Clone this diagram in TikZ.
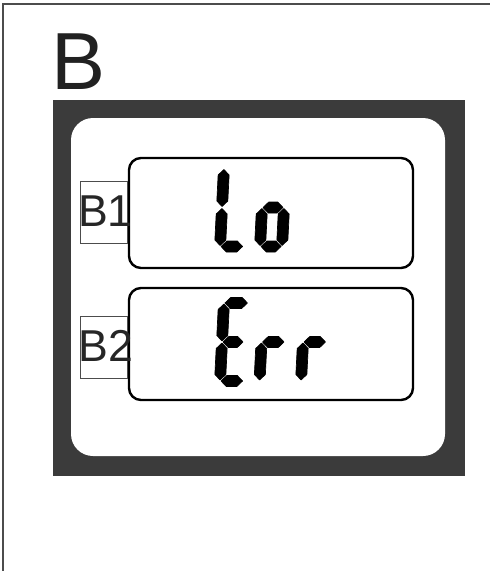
\documentclass[tikz,border=0pt]{standalone}
\usepackage{fontspec}
\setmainfont{Liberation Sans}
\begin{document}
\begin{tikzpicture}[x=0.75pt,y=0.75pt,yscale=-1,xscale=1,
	segment/.style={fill=black,draw=black,line width=0.5pt,line join=round},
	lcdpanel/.style={draw=black,line width=1.8pt,rounded corners=9pt},
	tagbox/.style={draw=black!70,line width=0.75pt,minimum width=35.25pt,minimum height=46.5pt,inner sep=0pt},
	tagtext/.style={inner sep=0pt,font=\fontsize{33.5pt}{34pt}\selectfont,text=black!85}]
	\useasboundingbox (0,0) rectangle (490,571);

	%Straight Lines [frame]
	\draw[black!70,line width=1.5pt] (3,571) -- (3,4) -- (490,4) ;

	% Text Node
	\node[anchor=south west,inner sep=0pt,font=\fontsize{60.75pt}{61pt}\selectfont,text=black!87] (title) at (51,90) {B};

	%Shape: Rectangle [bezel]
	\fill[black!77] (53,100) rectangle (465,476) ;
	%Shape: Rounded Rectangle [window]
	\fill[white,rounded corners=16.5pt] (71,118) rectangle (445,456) ;

	%Shape: Rounded Rectangle [upper display]
	\draw[lcdpanel] (129,158) rectangle (413,268) ;
	%Shape: Rounded Rectangle [lower display]
	\draw[lcdpanel] (129,288) rectangle (413,400) ;

	% Text Node
	\node[tagbox] (b1box) at (103.5,212.5) {};
	\node[tagtext] (b1) at ([xshift=1.5pt,yshift=-1pt]b1box.center) {B1};
	% Text Node
	\node[tagbox] (b2box) at (104,347) {};
	\node[tagtext] (b2) at ([xshift=1.5pt,yshift=-1pt]b2box.center) {B2};

	%Shape: Polygon [digit L]
	\begin{scope}[shift={(222,207.5)},xslant=-0.05]
		\filldraw[segment] (0,-38) -- (5.5,-32.5) -- (5.5,-6.5) -- (0,-1) -- (-5.5,-6.5) -- (-5.5,-32.5) -- cycle ;
		\filldraw[segment] (0,1) -- (5.5,6.5) -- (5.5,32.5) -- (0,38) -- (-5.5,32.5) -- (-5.5,6.5) -- cycle ;
		\filldraw[segment] (1,39) -- (6.5,33.5) -- (17,33.5) -- (22.5,39) -- (17,44.5) -- (6.5,44.5) -- cycle ;
	\end{scope}
	%Shape: Polygon [digit o]
	\begin{scope}[shift={(262,207.5)},xslant=-0.05]
		\filldraw[segment] (1,0) -- (6.5,-5.5) -- (15.5,-5.5) -- (21,0) -- (15.5,5.5) -- (6.5,5.5) -- cycle ;
		\filldraw[segment] (0,1) -- (5.5,6.5) -- (5.5,32.5) -- (0,38) -- (-5.5,32.5) -- (-5.5,6.5) -- cycle ;
		\filldraw[segment] (22,1) -- (27.5,6.5) -- (27.5,32.5) -- (22,38) -- (16.5,32.5) -- (16.5,6.5) -- cycle ;
		\filldraw[segment] (1,39) -- (6.5,33.5) -- (15.5,33.5) -- (21,39) -- (15.5,44.5) -- (6.5,44.5) -- cycle ;
	\end{scope}

	%Shape: Polygon [digit E]
	\begin{scope}[shift={(222,342)},xslant=-0.05]
		\filldraw[segment] (1,-39) -- (6.5,-44.5) -- (18,-44.5) -- (23.5,-39) -- (18,-33.5) -- (6.5,-33.5) -- cycle ;
		\filldraw[segment] (0,-38) -- (5.5,-32.5) -- (5.5,-6.5) -- (0,-1) -- (-5.5,-6.5) -- (-5.5,-32.5) -- cycle ;
		\filldraw[segment] (1,0) -- (6.5,-5.5) -- (15.5,-5.5) -- (21,0) -- (15.5,5.5) -- (6.5,5.5) -- cycle ;
		\filldraw[segment] (0,1) -- (5.5,6.5) -- (5.5,32.5) -- (0,38) -- (-5.5,32.5) -- (-5.5,6.5) -- cycle ;
		\filldraw[segment] (1,39) -- (6.5,33.5) -- (17,33.5) -- (22.5,39) -- (17,44.5) -- (6.5,44.5) -- cycle ;
	\end{scope}
	%Shape: Polygon [digit r]
	\begin{scope}[shift={(261.5,342)},xslant=-0.05]
		\filldraw[segment] (1,0) -- (6.5,-5.5) -- (17,-5.5) -- (22.5,0) -- (17,5.5) -- (6.5,5.5) -- cycle ;
		\filldraw[segment] (0,1) -- (5.5,6.5) -- (5.5,32.5) -- (0,38) -- (-5.5,32.5) -- (-5.5,6.5) -- cycle ;
	\end{scope}
	%Shape: Polygon [digit r]
	\begin{scope}[shift={(303,342)},xslant=-0.05]
		\filldraw[segment] (1,0) -- (6.5,-5.5) -- (17,-5.5) -- (22.5,0) -- (17,5.5) -- (6.5,5.5) -- cycle ;
		\filldraw[segment] (0,1) -- (5.5,6.5) -- (5.5,32.5) -- (0,38) -- (-5.5,32.5) -- (-5.5,6.5) -- cycle ;
	\end{scope}

\end{tikzpicture}
\end{document}
